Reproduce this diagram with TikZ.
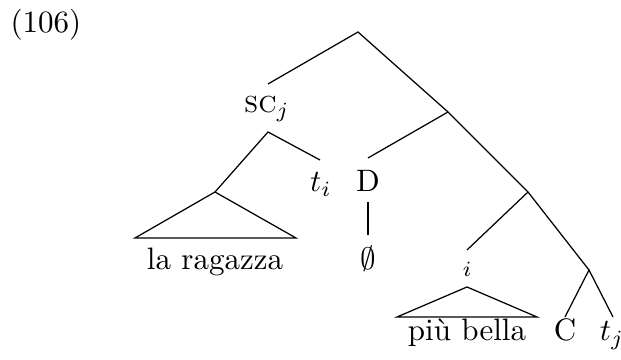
\documentclass[tikz,border=0pt]{standalone}
\usepackage{fontspec}
\begin{document}
\begin{tikzpicture}[x=0.3226pt,y=-0.3226pt,
  lbl/.style={inner sep=0pt, anchor=base},
  br/.style={line width=0.4pt, line join=miter}]
\useasboundingbox (0,0) rectangle (621,360);
% example number
\node[lbl, anchor=base west] (ex) at (10,33) {(106)};
% coordinates
\coordinate (root) at (358,32);
\coordinate (scTop) at (268,84);
\coordinate (n1) at (448,112);
\coordinate (n2) at (528,192);
\coordinate (n3) at (589,270);
\coordinate (dTop) at (368,158);
\coordinate (dBot) at (368,202);
\coordinate (eTop) at (368,235);
\coordinate (scBr) at (268,132);
\coordinate (tri1) at (215,192);
\coordinate (tiTop) at (320,160);
\coordinate (b1l) at (135,238);
\coordinate (b1r) at (296,238);
\coordinate (iTop) at (467,250);
\coordinate (tri2) at (467,287);
\coordinate (b2l) at (397,317);
\coordinate (b2r) at (537,317);
\coordinate (cTop) at (565,317);
\coordinate (tjTop) at (613,317);
% labels
\node[lbl] (sc) at (267,113) {\textsc{sc}$_j$};
\node[lbl] (D) at (368,192) {D};
\node[lbl] (empty) at (368,270) {$\emptyset$};
\node[lbl] (ti) at (321,192) {$t_i$};
\node[lbl] (lr) at (215,270) {la ragazza};
\node[lbl] (i) at (467,277) {$\scriptstyle i$};
\node[lbl] (pb) at (467,341) {più bella};
\node[lbl] (C) at (565,341) {C};
\node[lbl] (tj) at (612,341) {$t_j$};
% branches
\draw[br] (scTop) -- (root) -- (n1) -- (n2) -- (n3);
\draw[br] (n1) -- (dTop);
\draw[br] (dBot) -- (eTop);
\draw[br] (tri1) -- (scBr) -- (tiTop);
\draw[br] (b1l) -- (tri1) -- (b1r) -- cycle;
\draw[br] (n2) -- (iTop);
\draw[br] (b2l) -- (tri2) -- (b2r) -- cycle;
\draw[br] (cTop) -- (n3) -- (tjTop);
\end{tikzpicture}
\end{document}
